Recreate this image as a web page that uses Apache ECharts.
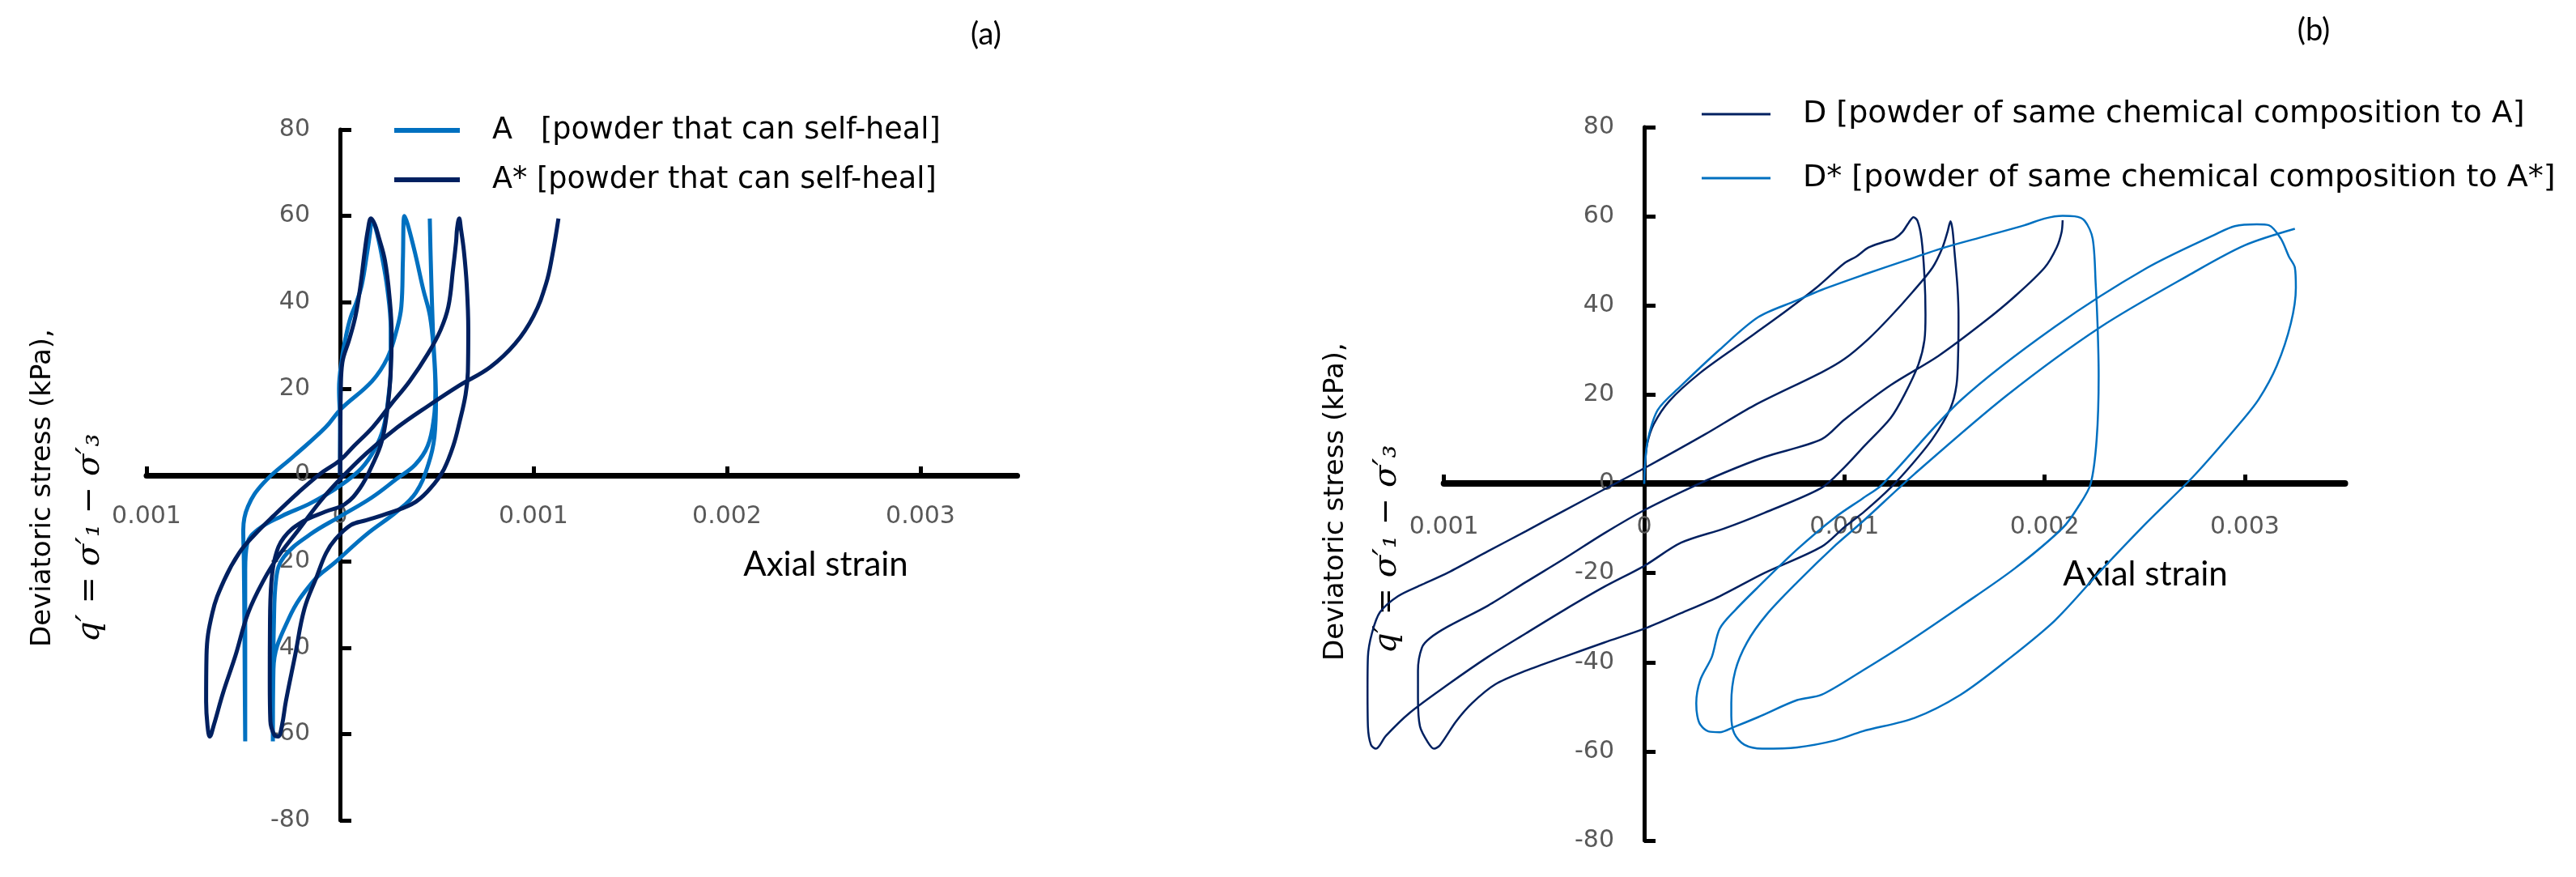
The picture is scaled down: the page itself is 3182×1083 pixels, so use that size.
<!DOCTYPE html>
<html><head><meta charset="utf-8">
<script src="https://cdn.jsdelivr.net/npm/echarts/dist/echarts.min.js"></script>
<style>html,body{margin:0;padding:0;background:#fff}#c{width:3182px;height:1083px}</style>
</head><body><div id="c"></div>
<script>
// strain values in units of 1e-3, deviatoric stress q' in kPa
const xTicks = [-1, 0, 1, 2, 3];
const yTicks = [-80, -60, -40, -20, 0, 20, 40, 60, 80];
const nameA  = 'A   [powder that can self-heal]';
const nameAs = 'A* [powder that can self-heal]';
const nameD  = 'D [powder of same chemical composition to A]';
const nameDs = 'D* [powder of same chemical composition to A*]';

const seriesA = [
  [0,0],[0,12],[-0.005,20],[0.01,27],[0.03,32],[0.054,36.4],[0.085,40],[0.112,43.9],[0.14,51.4],[0.155,56],[0.165,59],
  [0.185,57],[0.215,51],[0.245,43],[0.262,34],[0.262,25],[0.25,18],[0.225,11],[0.18,6],[0.11,1.5],[0,-2.5],[-0.15,-6.5],[-0.3,-9.5],[-0.42,-12.5],[-0.48,-16],[-0.49,-22],[-0.49,-40],[-0.49,-61.7],
  [-0.492,-50],[-0.494,-35],[-0.497,-20],[-0.5,-12.7],[-0.476,-7.3],[-0.396,-1.9],[-0.235,4.5],[-0.075,11],[0.005,15.3],[0.165,21.7],[0.245,27.1],[0.293,33.6],[0.317,39],[0.325,49.7],[0.333,60],
  [0.35,58],[0.39,51],[0.43,43],[0.465,36.8],[0.485,28.2],[0.493,19.6],[0.485,13.1],[0.453,6.7],[0.389,2.4],[0.293,-0.9],[0.165,-5.2],[0.005,-9.5],[-0.155,-13.8],[-0.29,-19],[-0.33,-24],[-0.342,-35],[-0.346,-50],[-0.347,-61.7],
  [-0.344,-45],[-0.264,-33.2],[-0.136,-24.5],[-0.024,-20.2],[0.136,-13.8],[0.296,-8.4],[0.392,-4.1],[0.456,2.4],[0.488,8.8],[0.496,17.4],[0.48,33.6],[0.469,49.7],[0.464,59.4]
];
const seriesAs = [
  [0,0],[0.002,10],[0.004,19.6],[0.012,26],[0.048,31.4],[0.08,36.8],[0.104,43.3],[0.128,51.9],[0.145,57],[0.16,59.4],
  [0.18,58],[0.2,55.1],[0.232,49.7],[0.256,41.1],[0.267,32.5],[0.261,22.8],[0.245,15.3],[0.216,7.8],[0.168,2.4],[0.104,-3],[0.024,-6.8],[-0.075,-8.5],[-0.2,-11],[-0.29,-14.5],[-0.335,-19],[-0.355,-25],[-0.362,-35],[-0.363,-48],[-0.36,-57],[-0.34,-60.2],[-0.32,-60.6],
  [-0.3,-58],[-0.28,-52.5],[-0.232,-41.8],[-0.184,-31],[-0.12,-23.5],[-0.072,-18.1],[-0.024,-14.9],[0.056,-11.6],[0.136,-10.5],[0.248,-8.9],[0.392,-6.2],[0.488,-2],[0.537,1.3],[0.585,6.7],[0.617,12.1],[0.649,18.6],[0.661,23.9],[0.663,33.6],[0.655,44],[0.64,52],[0.625,57],[0.616,59.4],
  [0.605,57],[0.6,54],[0.584,47.6],[0.56,39],[0.52,33.6],[0.456,28.2],[0.36,21.7],[0.264,16.4],[0.168,11],[0.072,6.7],[0,3.4],[-0.104,0.2],[-0.216,-4.1],[-0.344,-9.5],[-0.44,-13.8],[-0.52,-18],[-0.6,-24.5],[-0.66,-32],[-0.69,-41.8],[-0.692,-52.5],[-0.685,-58],[-0.673,-60.6],
  [-0.652,-57.9],[-0.604,-50.4],[-0.54,-41.8],[-0.476,-32.1],[-0.396,-24.5],[-0.315,-18.6],[-0.219,-13],[-0.1,-6],[0,-1],[0.136,5],[0.296,11],[0.456,16],[0.616,20.7],[0.777,25],[0.905,30.4],[1.0,36.8],[1.065,44.3],[1.097,50.8],[1.129,59.4]
];
const seriesD = [
  [0,0],[0.005,5],[0.015,9],[0.048,13.4],[0.126,18.6],[0.28,24.9],[0.474,31.2],[0.667,37.4],[0.86,44],[1.0,49.5],[1.06,51],[1.12,53],[1.2,54.3],[1.25,55],[1.29,56.5],[1.32,58.5],[1.345,59.8],
  [1.365,59],[1.385,55],[1.40,46.5],[1.405,38],[1.40,32.3],[1.37,26.8],[1.30,20],[1.23,14.7],[1.1,8.5],[1.0,3.7],[0.886,-0.9],[0.6,-6.5],[0.4,-10],[0.184,-13.2],[0,-18.4],[-0.2,-23.1],[-0.4,-28.3],[-0.59,-33.5],[-0.78,-38.8],[-0.98,-45],[-1.17,-51.3],[-1.29,-56.5],[-1.34,-59.4],
  [-1.365,-58.5],[-1.38,-54.4],[-1.382,-46],[-1.38,-38.8],[-1.36,-33.5],[-1.32,-28.8],[-1.23,-25.2],[-1.11,-22.6],[-0.98,-19.9],
  [-0.78,-15.1],[-0.59,-10.6],[-0.4,-6.0],[-0.19,-1.0],[0,3.5],[0.3,11],[0.55,17.6],[0.886,25],[1.0,28],[1.12,32.5],[1.23,37.5],[1.34,43],[1.44,48.5],[1.49,53],[1.515,56.5],[1.53,58.9],
  [1.54,57],[1.55,52],[1.565,44],[1.57,37.4],[1.568,29],[1.56,22.2],[1.53,17],[1.44,10.1],[1.34,4.5],[1.23,-0.9],[1.1,-6.2],[1.0,-9.7],[0.886,-14.1],[0.6,-20],[0.377,-25.2],[0.184,-29],[0,-32.5],[-0.2,-35.6],[-0.4,-38.8],[-0.59,-41.9],[-0.745,-45],[-0.86,-49.2],[-0.94,-53.3],[-1.02,-58.6],[-1.05,-59.4],
  [-1.08,-58],[-1.12,-54.4],[-1.13,-48],[-1.13,-41.9],[-1.11,-36.7],[-1.07,-34.6],[-0.98,-32],[-0.78,-27.3],[-0.59,-22],[-0.4,-16.8],[-0.2,-11.1],[0,-5.9],[0.2,-1.5],[0.4,2.5],[0.6,6],[0.886,10],[1.0,14.4],[1.23,22.1],[1.47,28.7],[1.7,36.4],[1.85,42],[2.0,48.5],[2.06,53],[2.085,56.5],[2.09,59.1]
];
const seriesDs = [
  [0,0],[0.005,5],[0.02,10.3],[0.068,16.6],[0.18,21.8],[0.377,30.1],[0.57,37.4],[0.76,41.1],[0.886,43.5],[1.09,46.8],[1.3,50],[1.5,53],[1.7,55.5],[1.9,58],[2.0,59.5],[2.09,60.1],
  [2.15,60],[2.2,59],[2.24,55],[2.255,45],[2.265,35],[2.27,24.3],[2.26,10],[2.23,0],[2.17,-5],[2.09,-9.9],[1.85,-19],[1.58,-27.5],[1.3,-36],[1.09,-41.9],[0.886,-47.3],[0.764,-48.5],[0.57,-52.3],[0.45,-54.5],[0.377,-55.7],[0.32,-55.5],[0.28,-54],[0.265,-52],
  [0.26,-49.2],[0.28,-44],[0.338,-38.8],[0.377,-32.5],[0.455,-28.3],[0.57,-23.1],[0.764,-14.7],[0.957,-7.4],[1.09,-3.3],[1.19,-0.1],[1.58,18.7],[2.05,35.2],[2.51,48.4],[2.86,56.1],[2.95,57.8],[3.06,58.2],
  [3.12,58],[3.18,55],[3.22,51],[3.25,48.5],[3.255,44],[3.23,36],[3.16,26.5],[3.07,19],[2.97,13.3],[2.75,2],[2.51,-8.7],[2.28,-19.5],[2.05,-30.7],[1.8,-40],[1.58,-47.3],[1.35,-52.5],[1.09,-55.5],[0.957,-57.5],[0.764,-59.1],[0.59,-59.4],
  [0.5,-58.5],[0.45,-56],[0.435,-52],[0.435,-49.2],[0.455,-41.9],[0.513,-35.6],[0.61,-29.4],[0.764,-22.1],[0.957,-13.7],[1.09,-8.5],[1.35,2.2],[1.81,19.8],[2.28,35.2],[2.74,47.3],[3.0,53.5],[3.25,57.2]
];

const LIGHT = '#0070C0', DARK = '#002060';
const chart = echarts.init(document.getElementById('c'));
const xFmt = v => v === 0 ? '0' : (Math.abs(v) / 1000).toFixed(3);
function xAx(i, lw, margin, off) {
  return { gridIndex: i, type: 'value', position: 'bottom', offset: off, min: xTicks[0], max: 3.5, interval: 1,
    axisLine: { show: true, onZero: false, lineStyle: { color: '#000', width: lw } },
    axisTick: { show: true, inside: true, length: 11, lineStyle: { color: '#000', width: 5 } },
    axisLabel: { formatter: xFmt, color: '#595959', fontSize: 30, fontFamily: 'DejaVu Sans', margin: margin, showMaxLabel: false },
    splitLine: { show: false } };
}
function yAx(i, off) {
  return { gridIndex: i, type: 'value', position: 'left', offset: off, min: yTicks[0], max: yTicks[yTicks.length - 1], interval: 20,
    axisLine: { show: true, onZero: false, lineStyle: { color: '#000', width: 5 } },
    axisTick: { show: true, inside: true, length: 14, lineStyle: { color: '#000', width: 5 } },
    axisLabel: { color: '#595959', fontSize: 30, fontFamily: 'DejaVu Sans', margin: 37 },
    splitLine: { show: false } };
}
function lg(data, left, top, w, h, gap, fs) {
  return { data: data, orient: 'vertical', left: left, top: top, padding: 0, itemWidth: w, itemHeight: h, itemGap: gap, icon: 'rect',
    textStyle: { fontFamily: 'DejaVu Sans', fontSize: fs, color: '#000', lineHeight: 40, padding: [0, 0, 0, 35] } };
}
function yTitle(x1, y1, x2, y2) {
  return [
    { type: 'text', x: x1, y: y1, rotation: Math.PI / 2,
      style: { text: 'Deviatoric stress (kPa),', font: '34px "DejaVu Sans"', fill: '#000', textAlign: 'left', textVerticalAlign: 'middle' } },
    { type: 'text', x: x2, y: y2, rotation: Math.PI / 2,
      style: { text: 'q\u2032 = \u03c3\u2032\u2081 \u2212 \u03c3\u2032\u2083', font: 'italic 40px "DejaVu Serif"', fill: '#000', textAlign: 'left', textVerticalAlign: 'middle' } }
  ];
}
function txt(x, y, s, font) {
  return { type: 'text', x: x, y: y, style: { text: s, font: font, fill: '#000', textAlign: 'center', textVerticalAlign: 'middle' } };
}
function line(name, ai, data, color, w, sm) {
  return { type: 'line', name: name, xAxisIndex: ai, yAxisIndex: ai, data: data, showSymbol: false, smooth: sm, clip: false,
    color: color, lineStyle: { width: w, color: color } };
}
// panel (b): the data run left of the drawn axis start, so they use a wider hidden scale with the same px per unit
const pxB = 247.3, zeroB = 2031, dataMinB = -1.5;
chart.setOption({
  animation: false,
  backgroundColor: '#fff',
  grid: [
    { left: 181, top: 160, width: 1075.5, height: 853 },
    { left: zeroB + xTicks[0] * pxB, top: 157, width: 4.5 * pxB, height: 881 },
    { left: zeroB + dataMinB * pxB, top: 157, width: (3.5 - dataMinB) * pxB, height: 881 }
  ],
  xAxis: [xAx(0, 7, 36, -426), xAx(1, 8, 39, -441),
    { gridIndex: 2, type: 'value', min: dataMinB, max: 3.5, show: false }],
  yAxis: [yAx(0, -239), yAx(1, -247.3),
    { gridIndex: 2, type: 'value', min: -80, max: 80, show: false }],
  legend: [lg([nameA, nameAs], 487, 141, 81, 6, 21, 36.6), lg([nameD, nameDs], 2102, 121, 85, 3, 39, 38)],
  series: [
    line(nameA, 0, seriesA, LIGHT, 5, 0.4),
    line(nameAs, 0, seriesAs, DARK, 5, 0.4),
    line(nameD, 2, seriesD, DARK, 2.5, 0.3),
    line(nameDs, 2, seriesDs, LIGHT, 2.5, 0.3)
  ],
  graphic: [
    txt(1218, 43, '(a)', '38px Lato'),
    txt(2858, 38, '(b)', '38px Lato'),
    txt(1020, 697, 'Axial strain', '42px Lato'),
    txt(2650, 709, 'Axial strain', '42px Lato'),
    ...yTitle(53, 799, 112, 793),
    ...yTitle(1650, 816, 1714, 807)
  ]
});
</script></body></html>
